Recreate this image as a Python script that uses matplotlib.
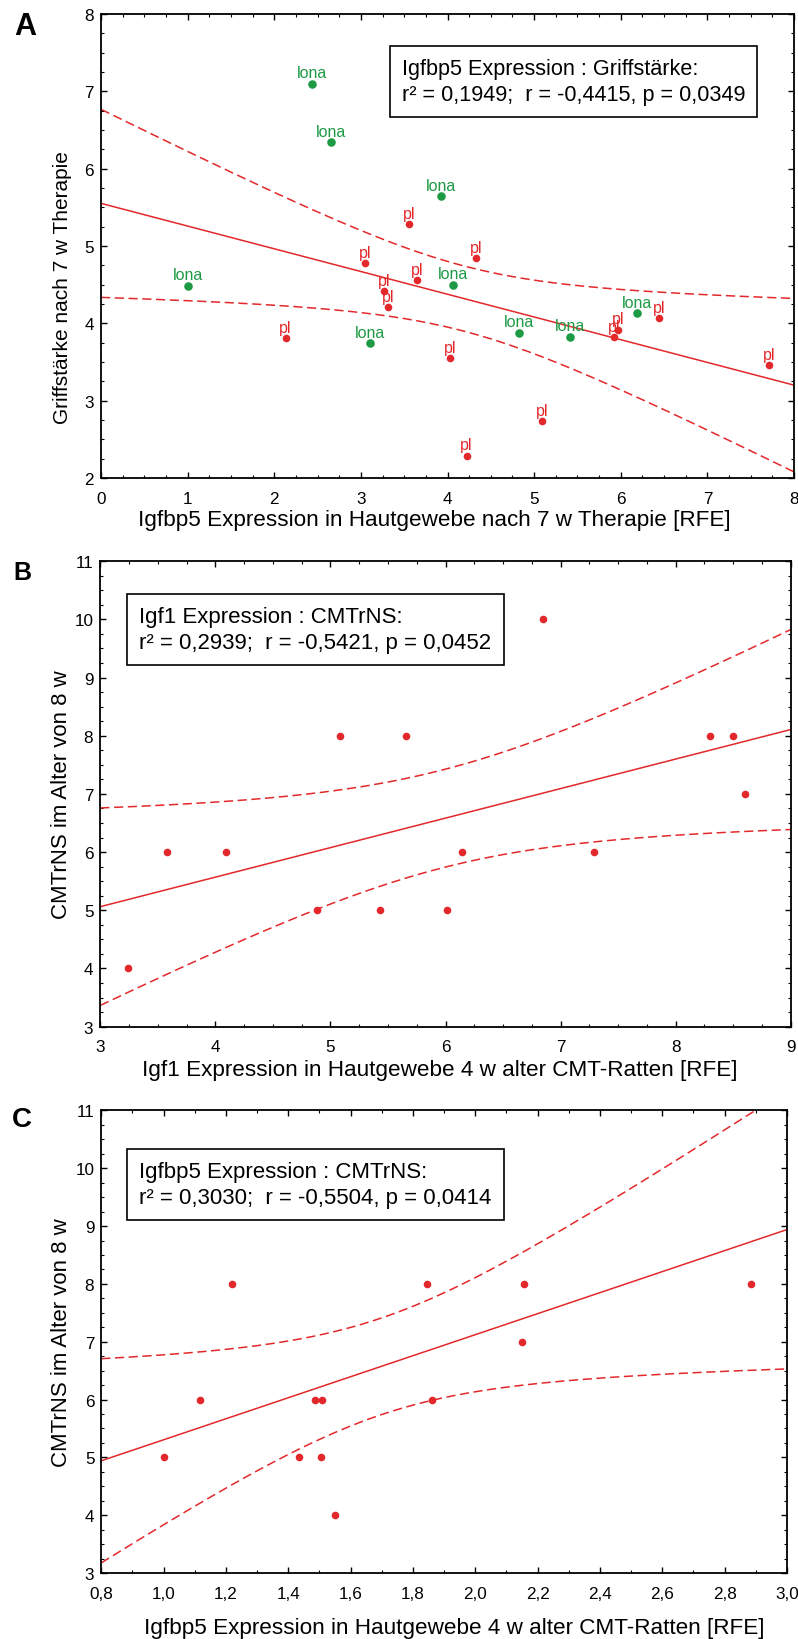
import numpy as np
import matplotlib
matplotlib.use('Agg')
import matplotlib.pyplot as plt
from matplotlib.ticker import MultipleLocator, FuncFormatter

plt.rcParams['font.family'] = ['Liberation Sans', 'DejaVu Sans']

RED = '#e3282b'
GREEN = '#1e9a45'

#-------------------------------------------------------------------------------
# data
#-------------------------------------------------------------------------------
# A: Igfbp5 expression vs Griffstaerke, two groups
a_pl_x = [3.56, 3.05, 4.33, 3.27, 3.31, 3.65, 2.13, 5.92, 5.97, 6.44, 7.71, 4.03, 5.09, 4.22]
a_pl_y = [5.28, 4.78, 4.84, 4.42, 4.21, 4.56, 3.81, 3.82, 3.92, 4.07, 3.46, 3.55, 2.74, 2.29]
a_lona_x = [2.44, 2.65, 3.92, 1.00, 3.11, 4.06, 4.82, 5.41, 6.19]
a_lona_y = [7.10, 6.34, 5.65, 4.49, 3.74, 4.50, 3.88, 3.83, 4.13]

# B: Igf1 expression vs CMTrNS
b_x = [3.24, 3.58, 4.09, 4.88, 5.08, 5.43, 5.66, 6.01, 6.14, 6.85, 7.29, 8.30, 8.50, 8.60]
b_y = [4, 6, 6, 5, 8, 5, 8, 5, 6, 10, 6, 8, 8, 7]

# C: Igfbp5 expression vs CMTrNS
c_x = [1.00, 1.116, 1.22, 1.435, 1.485, 1.506, 1.509, 1.55, 1.845, 1.86, 2.04, 2.15, 2.156, 2.884]
c_y = [5, 6, 8, 5, 6, 5, 6, 4, 8, 6, 10, 7, 8, 8]

stats_a = 'Igfbp5 Expression : Griffstärke:\nr² = 0,1949;  r = -0,4415, p = 0,0349'
stats_b = 'Igf1 Expression : CMTrNS:\nr² = 0,2939;  r = -0,5421, p = 0,0452'
stats_c = 'Igfbp5 Expression : CMTrNS:\nr² = 0,3030;  r = -0,5504, p = 0,0414'

# t(0.975) for n-2 degrees of freedom
T975 = {21: 2.0796, 12: 2.1788}


def fit_band(x, y, xs):
    x = np.asarray(x, float)
    y = np.asarray(y, float)
    n = len(x)
    b, a = np.polyfit(x, y, 1)
    yhat = a + b * xs
    s = np.sqrt(np.sum((y - (a + b * x)) ** 2) / (n - 2))
    sxx = np.sum((x - x.mean()) ** 2)
    se = s * np.sqrt(1.0 / n + (xs - x.mean()) ** 2 / sxx)
    t = T975[n - 2]
    return yhat, yhat - t * se, yhat + t * se


def style(ax, xlim, ylim, xmaj, xmin, ymaj, ymin, comma=False):
    ax.set_xlim(*xlim)
    ax.set_ylim(*ylim)
    ax.xaxis.set_major_locator(MultipleLocator(xmaj))
    ax.xaxis.set_minor_locator(MultipleLocator(xmin))
    ax.yaxis.set_major_locator(MultipleLocator(ymaj))
    ax.yaxis.set_minor_locator(MultipleLocator(ymin))
    if comma:
        ax.xaxis.set_major_formatter(FuncFormatter(lambda v, p: ('%.1f' % v).replace('.', ',')))
    ax.tick_params(which='both', direction='in', top=True, right=True, labelsize=12.3)
    ax.tick_params(axis='x', which='major', pad=9)
    ax.tick_params(axis='y', which='major', pad=5)
    ax.tick_params(which='major', length=4, width=1.0)
    ax.tick_params(which='minor', length=2.5, width=0.8)
    for sp in ax.spines.values():
        sp.set_linewidth(1.3)


def draw_fit(ax, x, y):
    xs = np.linspace(ax.get_xlim()[0], ax.get_xlim()[1], 200)
    yhat, lo, hi = fit_band(x, y, xs)
    ax.plot(xs, yhat, color=RED, lw=1.1, zorder=2)
    ax.plot(xs, lo, color=RED, lw=1.1, ls=(0, (6, 3)), zorder=2)
    ax.plot(xs, hi, color=RED, lw=1.1, ls=(0, (6, 3)), zorder=2)


def stat_box(ax, x, y, txt, size=15.8):
    ax.text(x, y, txt, transform=ax.transAxes, fontsize=size, va='top', ha='left',
            linespacing=1.3, zorder=5,
            bbox=dict(boxstyle='square,pad=0.55', fc='white', ec='black', lw=1.2))


fig = plt.figure(figsize=(7.98, 16.4), dpi=100)

#-------------------------------------------------------------------------------
# A
#-------------------------------------------------------------------------------
ax1 = fig.add_axes([0.1266, 0.7079, 0.8684, 0.2829])
style(ax1, (0, 8), (2, 8), 1, 0.25, 1, 0.25)
draw_fit(ax1, a_pl_x + a_lona_x, a_pl_y + a_lona_y)
ax1.scatter(a_pl_x, a_pl_y, s=30, color=RED, zorder=3, linewidths=0)
ax1.scatter(a_lona_x, a_lona_y, s=38, color=GREEN, zorder=3, linewidths=0)
for xx, yy in zip(a_pl_x, a_pl_y):
    ax1.annotate('pl', (xx, yy), xytext=(0, 4.5), textcoords='offset points',
                 ha='center', va='baseline', fontsize=11.5, color=RED)
for xx, yy in zip(a_lona_x, a_lona_y):
    ax1.annotate('lona', (xx, yy), xytext=(0, 4.5), textcoords='offset points',
                 ha='center', va='baseline', fontsize=11.5, color=GREEN)
stat_box(ax1, 0.434, 0.905, stats_a, size=15.6)
ax1.set_xlabel('Igfbp5 Expression in Hautgewebe nach 7 w Therapie [RFE]', fontsize=16.2)
ax1.set_ylabel('Griffstärke nach 7 w Therapie', fontsize=15)
ax1.xaxis.set_label_coords(0.481, -0.066)
ax1.yaxis.set_label_coords(-0.042, 0.412)

#-------------------------------------------------------------------------------
# B
#-------------------------------------------------------------------------------
ax2 = fig.add_axes([0.1257, 0.3734, 0.8652, 0.2838])
style(ax2, (3, 9), (3, 11), 1, 0.25, 1, 0.25)
draw_fit(ax2, b_x, b_y)
ax2.scatter(b_x, b_y, s=30, color=RED, zorder=3, linewidths=0)
stat_box(ax2, 0.0565, 0.904, stats_b, size=16)
ax2.set_xlabel('Igf1 Expression in Hautgewebe 4 w alter CMT-Ratten [RFE]', fontsize=16.2)
ax2.set_ylabel('CMTrNS im Alter von 8 w', fontsize=16)
ax2.xaxis.set_label_coords(0.4916, -0.069)
ax2.yaxis.set_label_coords(-0.041, 0.5)

#-------------------------------------------------------------------------------
# C
#-------------------------------------------------------------------------------
ax3 = fig.add_axes([0.1269, 0.0402, 0.8593, 0.2821])
style(ax3, (0.8, 3.0), (3, 11), 0.2, 0.1, 1, 0.25, comma=True)
draw_fit(ax3, c_x, c_y)
ax3.scatter(c_x, c_y, s=30, color=RED, zorder=3, linewidths=0)
stat_box(ax3, 0.0554, 0.890, stats_c, size=16)
ax3.set_xlabel('Igfbp5 Expression in Hautgewebe 4 w alter CMT-Ratten [RFE]', fontsize=16.2)
ax3.set_ylabel('CMTrNS im Alter von 8 w', fontsize=16)
ax3.xaxis.set_label_coords(0.5154, -0.095)
ax3.yaxis.set_label_coords(-0.043, 0.5)

# panel letters
fig.text(14 / 798, 1 - 12 / 1640, 'A', fontsize=22, weight='bold', va='top', ha='left')
fig.text(13 / 798, 1 - 561 / 1640, 'B', fontsize=18, weight='bold', va='top', ha='left')
fig.text(12 / 798, 1 - 1107 / 1640, 'C', fontsize=20, weight='bold', va='top', ha='left')

fig.savefig('out.png', dpi=100)
